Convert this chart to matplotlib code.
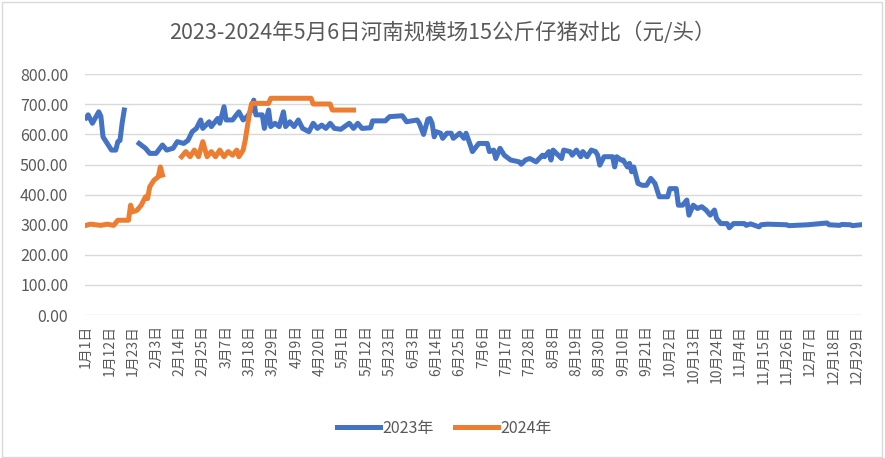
import matplotlib
matplotlib.use('Agg')
import matplotlib.pyplot as plt
from matplotlib.patches import Rectangle
import numpy as np

plt.rcParams['font.family'] = ['Noto Sans CJK SC', 'DejaVu Sans']

# day index within year (category axis), price in yuan per head
days_2023 = [0, 1, 3, 4, 6, 7, 8, 10, 12, 14, 15, 16, 17, 18,
             19,
             25, 28, 30, 33, 36, 38, 41, 43, 46, 48, 50, 52, 54, 55, 58, 59,
             62, 63, 65, 66, 69, 72, 74, 76, 78, 79, 80, 83, 84, 86, 87, 89,
             91, 93, 94, 96, 98, 100, 102, 105, 107, 109, 111, 113, 115, 117,
             120, 124, 126, 128, 130, 134, 135, 141, 143, 149, 151, 156, 157,
             159, 161, 162, 163, 164, 165, 167, 168, 170, 172, 173, 176, 178,
             179, 181, 182, 185, 189, 190, 192, 193, 195, 197, 200, 204, 205,
             207, 209, 212, 215, 216, 218, 219, 220, 224, 225, 228, 229, 231,
             233, 234, 236, 238, 240, 241, 242, 244, 248, 249, 250, 252, 253,
             255, 256, 257, 258, 260, 262, 264, 266, 268, 270, 274, 275, 278,
             279, 281, 283, 284, 286, 288, 290, 292, 294, 296, 297, 299, 302,
             303, 305, 310, 311, 313, 317, 318, 321, 330, 331, 340, 349, 350,
             355, 356, 360, 361, 365]
price_2023 = [655, 665, 637, 650, 675, 660, 592, 570, 548, 548, 576, 580, 637, 681,
              None,
              570, 554, 537, 537, 565, 548, 554, 576, 570, 580, 609, 620, 648, 620, 642, 626,
              653, 637, 692, 648, 648, 675, 648, 660, 681, 714, 665, 665, 620, 681, 626, 637,
              626, 675, 626, 642, 626, 648, 620, 609, 637, 620, 631, 620, 637, 620,
              617, 637, 620, 637, 620, 622, 645, 645, 659, 662, 642, 648, 637,
              600, 650, 653, 637, 592, 609, 604, 587, 604, 604, 587, 604, 587,
              604, 565, 543, 570, 570, 543, 548, 520, 554, 531, 515, 509, 501,
              515, 520, 509, 531, 526, 543, 515, 548, 520, 548, 543, 531, 548,
              526, 543, 526, 548, 543, 531, 498, 526, 526, 492, 526, 515, 515,
              492, 504, 476, 492, 437, 431, 431, 454, 437, 393, 393, 420, 420,
              365, 365, 382, 332, 365, 354, 360, 349, 332, 349, 321, 304, 304,
              290, 304, 304, 298, 303, 293, 300, 302, 300, 297, 300, 306, 300,
              298, 301, 300, 297, 300]

days_2024 = [0, 2, 7, 10, 13, 15, 20, 21, 22, 24, 26, 28, 29, 30, 32, 34, 35, 36,
             37,
             45, 47, 49, 51, 53, 55, 57, 59, 61, 63, 65, 67, 69, 71, 72, 74, 75,
             76, 77, 78, 86, 87, 106, 107, 115, 116, 126]
price_2024 = [298, 302, 298, 302, 298, 315, 315, 365, 343, 348, 365, 393, 387, 426, 448, 459, 492, 465,
              None,
              526, 543, 526, 548, 526, 576, 526, 543, 526, 548, 526, 543, 531, 548, 526, 548, 581,
              626, 670, 703, 703, 720, 720, 701, 701, 681, 681]

tick_days = list(range(0, 366, 11))
tick_labels = ['1月1日', '1月12日', '1月23日', '2月3日', '2月14日', '2月25日', '3月7日',
               '3月18日', '3月29日', '4月9日', '4月20日', '5月1日', '5月12日', '5月23日',
               '6月3日', '6月14日', '6月25日', '7月6日', '7月17日', '7月28日', '8月8日',
               '8月19日', '8月30日', '9月10日', '9月21日', '10月2日', '10月13日', '10月24日',
               '11月4日', '11月15日', '11月26日', '12月7日', '12月18日', '12月29日']

y23 = np.array([np.nan if v is None else v for v in price_2023], dtype=float)
y24 = np.array([np.nan if v is None else v for v in price_2024], dtype=float)

fig = plt.figure(figsize=(8.85, 4.58), dpi=100)
ax = fig.add_axes([0.096, 0.312, 0.878, 0.526])

ax.plot(days_2023, y23, color='#4472C4', lw=3.6, label='2023年', solid_joinstyle='round', zorder=3)
ax.plot(days_2024, y24, color='#ED7D31', lw=3.6, label='2024年', solid_joinstyle='round', zorder=3)

ax.set_xlim(-0.5, 365.5)
ax.set_ylim(0, 800)
ax.set_yticks(range(0, 801, 100))
ax.set_yticklabels(['%.2f' % v for v in range(0, 801, 100)])
ax.set_xticks(tick_days)
ax.set_xticklabels(tick_labels, rotation=90)
ax.tick_params(axis='both', length=0, colors='#595959', labelsize=10)
ax.tick_params(axis='y', pad=12, labelsize=11.5)
ax.tick_params(axis='x', pad=7)
ax.grid(axis='y', color='#D9D9D9', lw=1)
ax.set_axisbelow(True)
for s in ax.spines.values():
    s.set_visible(False)

fig.text(0.5, 0.928, '2023-2024年5月6日河南规模场15公斤仔猪对比（元/头）',
         ha='center', va='center', fontsize=15.5, color='#595959')

fig.legend(loc='center', bbox_to_anchor=(0.502, 0.065), ncol=2, frameon=False,
           fontsize=11.5, handlelength=2.7, handletextpad=0.15, columnspacing=1.3,
           labelcolor='#595959')

fig.patches.append(Rectangle((0.002, 0.003), 0.995, 0.993, transform=fig.transFigure,
                             fill=False, edgecolor='#D9D9D9', lw=1))

fig.savefig('out.png', dpi=100)
